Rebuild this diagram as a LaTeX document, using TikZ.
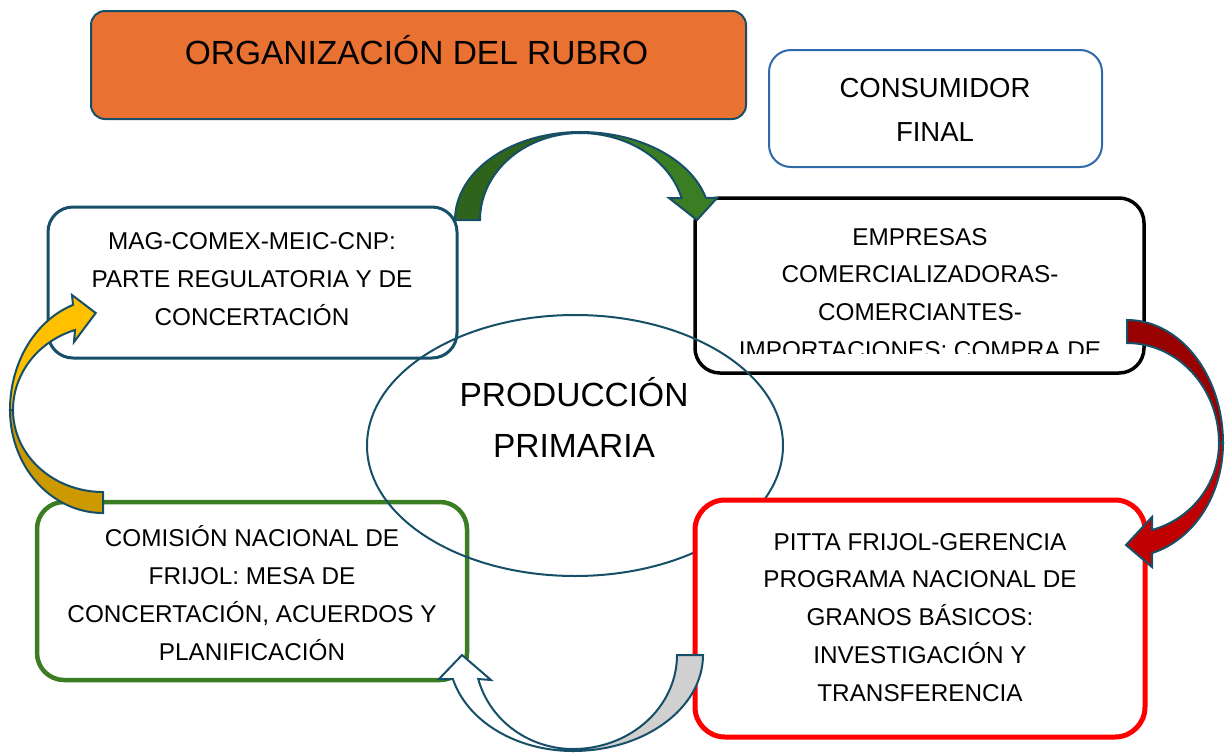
\documentclass[tikz,border=0pt]{standalone}
\usepackage{fontspec}
\setmainfont{Liberation Sans}
\usetikzlibrary{shapes.geometric}
\definecolor{edgeblue}{HTML}{164F67}
\definecolor{orangefill}{HTML}{E97132}
\definecolor{boxgreen}{HTML}{3A7D22}
\definecolor{grnlight}{HTML}{3A7D22}
\definecolor{grndark}{HTML}{2E631B}
\definecolor{redlight}{HTML}{C00000}
\definecolor{reddark}{HTML}{990000}
\definecolor{graytail}{HTML}{D0D0D0}
\definecolor{goldlight}{HTML}{FFC000}
\definecolor{golddark}{HTML}{CC9A00}
\definecolor{consblue}{HTML}{2F69AC}
\begin{document}
\begin{tikzpicture}[x=1pt,y=-1pt,
  box/.style={draw, rounded corners=#1, fill=white, inner sep=0pt, outer sep=0pt},
  box/.default=25pt,
  txt/.style={anchor=base, align=center, inner sep=0pt, font=\fontsize{24.3}{37.7}\selectfont},
  arrowedge/.style={draw=edgeblue, line width=2pt, line join=miter}]
\useasboundingbox (0,0) rectangle (1227,753);

% boxes (text nodes are anchored at the baseline of their last line)
\node[box=14pt, draw=edgeblue, line width=2pt, fill=orangefill, minimum width=655pt, minimum height=108pt] (title) at (418.5,65) {};
\node[txt, font=\fontsize{33.5}{40}\selectfont] (titletext) at (416.5,64) {ORGANIZACIÓN DEL RUBRO};

\node[box=22pt, draw=consblue, line width=2pt, minimum width=333pt, minimum height=117pt] (consumer) at (935.5,108.5) {};
\node[txt, font=\fontsize{27.5}{44.4}\selectfont] (constext) at (935,141.7) {CONSUMIDOR\\FINAL};

\node[box, draw=edgeblue, line width=3pt, minimum width=409pt, minimum height=151pt] (mag) at (252.5,282.5) {};
\node[txt] (magtext) at (252,325) {MAG-COMEX-MEIC-CNP:\\PARTE REGULATORIA Y DE\\CONCERTACIÓN};

\node[box, draw=black, line width=3.5pt, minimum width=449pt, minimum height=175pt] (empresas) at (919.5,285.5) {};
\begin{scope}
  \clip (empresas.north west) rectangle (1144,353.3);
  \node[txt] (emptext) at (920,358.1) {EMPRESAS\\COMERCIALIZADORAS-\\COMERCIANTES-\\IMPORTACIONES: COMPRA DE};
\end{scope}

\node[box=27pt, draw=boxgreen, line width=4.5pt, minimum width=430pt, minimum height=178pt] (comision) at (252,591) {};
\node[txt, font=\fontsize{24.3}{38}\selectfont] (comtext) at (252,660.7) {COMISIÓN NACIONAL DE\\FRIJOL: MESA DE\\CONCERTACIÓN, ACUERDOS Y\\PLANIFICACIÓN};

% central ellipse
\node[draw=edgeblue, line width=2pt, ellipse, minimum width=416pt, minimum height=261pt, inner sep=0pt] (prod) at (575,445.5) {};
\node[txt, font=\fontsize{33.5}{50.6}\selectfont] (prodtext) at (574,457.3) {PRODUCCIÓN\\PRIMARIA};

\node[box=30pt, draw=red, line width=5pt, minimum width=450pt, minimum height=237pt] (pitta) at (920,618.5) {};
\node[txt] (pittatext) at (920,701) {PITTA FRIJOL-GERENCIA\\PROGRAMA NACIONAL DE\\GRANOS BÁSICOS:\\INVESTIGACIÓN Y\\TRANSFERENCIA};

% green curved arrow (top)
\filldraw[arrowedge, fill=grndark]
  plot[domain=180:270,samples=40,variable=\t] ({580+125*cos(\t)},{220+88*sin(\t)})
  -- plot[domain=270:180,samples=40,variable=\t] ({580+100*cos(\t)},{220+87*sin(\t)}) -- cycle;
\filldraw[arrowedge, fill=grnlight]
  plot[domain=270:345.5,samples=40,variable=\t] ({580+130*cos(\t)},{220+88*sin(\t)})
  -- (717,198) -- (697,220) -- (669,198)
  -- plot[domain=345.35:270,samples=40,variable=\t] ({580+105*cos(\t)},{220+87*sin(\t)}) -- cycle;

% red curved arrow (right)
\filldraw[arrowedge, fill=reddark]
  plot[domain=270:360,samples=40,variable=\t] ({1127+96*cos(\t)},{443+123*sin(\t)})
  -- plot[domain=360:270,samples=40,variable=\t] ({1127+92*cos(\t)},{443+100*sin(\t)}) -- cycle;
\filldraw[arrowedge, fill=redlight]
  plot[domain=0:74.9,samples=40,variable=\t] ({1127+96*cos(\t)},{443+114*sin(\t)})
  -- (1152,567) -- (1126,545) -- (1152,517)
  -- plot[domain=74.23:0,samples=40,variable=\t] ({1127+92*cos(\t)},{443+90.4*sin(\t)}) -- cycle;

% gray/white curved arrow (bottom)
\filldraw[arrowedge, fill=graytail]
  plot[domain=0:90,samples=40,variable=\t] ({573+130*cos(\t)},{655+96*sin(\t)})
  -- plot[domain=90:0,samples=40,variable=\t] ({573+104*cos(\t)},{655+94*sin(\t)}) -- cycle;
\filldraw[arrowedge, fill=white]
  plot[domain=90:165.5,samples=40,variable=\t] ({573+124*cos(\t)},{655+96*sin(\t)})
  -- (439,679) -- (462,655) -- (491,680)
  -- plot[domain=165.2:90,samples=40,variable=\t] ({573+98*cos(\t)},{655+94*sin(\t)}) -- cycle;

% gold curved arrow (left)
\filldraw[arrowedge, fill=golddark]
  plot[domain=180:90,samples=40,variable=\t] ({103+93*cos(\t)},{410+103*sin(\t)})
  -- plot[domain=90:180,samples=40,variable=\t] ({103+90*cos(\t)},{410+82*sin(\t)}) -- cycle;
\filldraw[arrowedge, fill=goldlight]
  plot[domain=180:251.2,samples=40,variable=\t] ({103+93*cos(\t)},{410+111*sin(\t)})
  -- (72,295) -- (95.7,313) -- (74,342)
  -- plot[domain=251.88:180,samples=40,variable=\t] ({103+90*cos(\t)},{410+84.2*sin(\t)}) -- cycle;
\end{tikzpicture}
\end{document}
